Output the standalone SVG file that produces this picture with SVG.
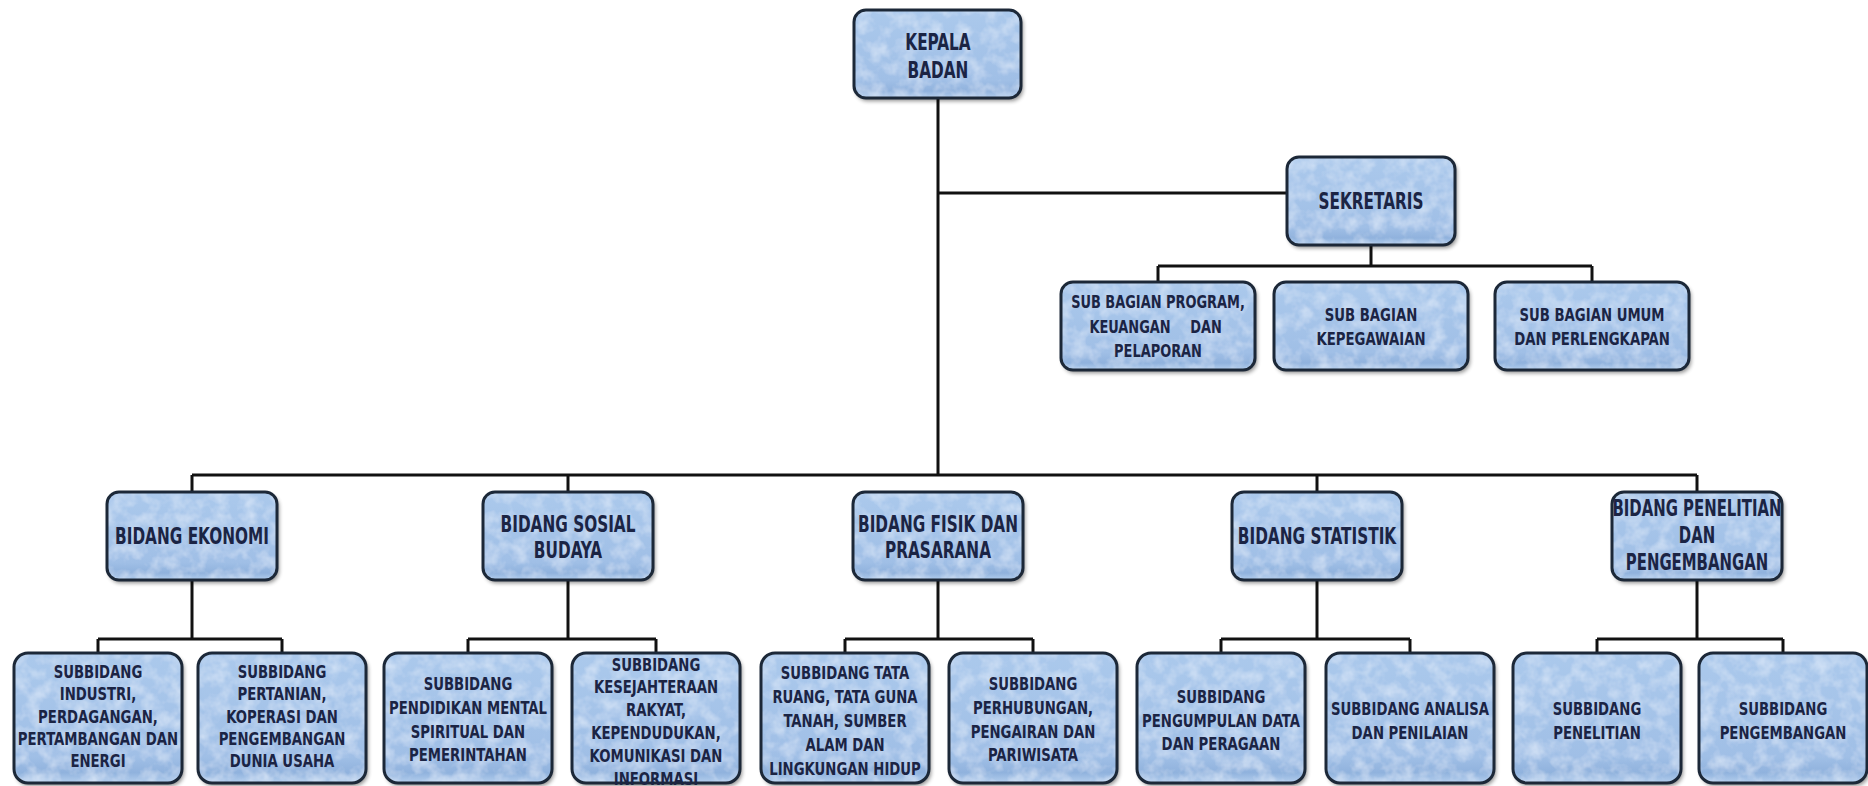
<svg xmlns="http://www.w3.org/2000/svg" width="1868" height="786" viewBox="0 0 1868 786">
<defs>
<linearGradient id="g" x1="0" y1="0" x2="0" y2="1">
<stop offset="0" stop-color="#abc9ec"/>
<stop offset="0.8" stop-color="#a0bfe6"/>
<stop offset="0.92" stop-color="#90b2dd"/>
<stop offset="1" stop-color="#b4cfee"/>
</linearGradient>
<filter id="f" x="-5%" y="-5%" width="115%" height="120%">
<feGaussianBlur in="SourceAlpha" stdDeviation="2" result="bl"/>
<feOffset in="bl" dx="2" dy="3" result="of"/>
<feComponentTransfer in="of" result="sh"><feFuncA type="linear" slope="0.45"/></feComponentTransfer>
<feTurbulence type="fractalNoise" baseFrequency="0.07" numOctaves="3" seed="7" result="n"/>
<feColorMatrix in="n" type="matrix" values="0 0 0 0 0.8  0 0 0 0 0.88  0 0 0 0 0.98  1.1 0 0 0 -0.42" result="nw"/>
<feComposite in="nw" in2="SourceGraphic" operator="in" result="tex"/>
<feMerge><feMergeNode in="sh"/><feMergeNode in="SourceGraphic"/><feMergeNode in="tex"/></feMerge>
</filter>
</defs>
<style>
.fl{fill:url(#g);filter:url(#f);}
.st{fill:none;stroke:#1c2838;stroke-width:3;}
.c line{stroke:#111;stroke-width:3;}
text{font-family:"DejaVu Sans Condensed","Liberation Sans",sans-serif;font-weight:bold;fill:#1b2444;text-anchor:middle;}
.h{font-size:23px;}
.s{font-size:18px;}
</style>
<rect width="1868" height="786" fill="#ffffff"/>
<g class="c" id="connectors">
<line x1="938" y1="98" x2="938" y2="475"/>
<line x1="938" y1="193" x2="1287" y2="193"/>
<line x1="1371" y1="245" x2="1371" y2="266"/>
<line x1="1158" y1="266" x2="1592" y2="266"/>
<line x1="1158" y1="266" x2="1158" y2="282"/>
<line x1="1592" y1="266" x2="1592" y2="282"/>
<line x1="192" y1="475" x2="1697" y2="475"/>
<line x1="192" y1="475" x2="192" y2="492"/>
<line x1="568" y1="475" x2="568" y2="492"/>
<line x1="1317" y1="475" x2="1317" y2="492"/>
<line x1="1697" y1="475" x2="1697" y2="492"/>
<line x1="192" y1="580" x2="192" y2="639"/>
<line x1="568" y1="580" x2="568" y2="639"/>
<line x1="938" y1="580" x2="938" y2="639"/>
<line x1="1317" y1="580" x2="1317" y2="639"/>
<line x1="1697" y1="580" x2="1697" y2="639"/>
<line x1="98" y1="639" x2="282" y2="639"/>
<line x1="468" y1="639" x2="656" y2="639"/>
<line x1="845" y1="639" x2="1033" y2="639"/>
<line x1="1221" y1="639" x2="1410" y2="639"/>
<line x1="1597" y1="639" x2="1783" y2="639"/>
<line x1="98" y1="639" x2="98" y2="653"/>
<line x1="282" y1="639" x2="282" y2="653"/>
<line x1="468" y1="639" x2="468" y2="653"/>
<line x1="656" y1="639" x2="656" y2="653"/>
<line x1="845" y1="639" x2="845" y2="653"/>
<line x1="1033" y1="639" x2="1033" y2="653"/>
<line x1="1221" y1="639" x2="1221" y2="653"/>
<line x1="1410" y1="639" x2="1410" y2="653"/>
<line x1="1597" y1="639" x2="1597" y2="653"/>
<line x1="1783" y1="639" x2="1783" y2="653"/>
</g>
<g id="kepala">
<rect class="fl" x="854" y="10" width="167" height="88" rx="12"/><rect class="st" x="854" y="10" width="167" height="88" rx="12"/>
<text class="h" transform="translate(938 0) scale(0.74 1)"><tspan x="0" y="50">KEPALA</tspan><tspan x="0" y="78">BADAN</tspan></text>
</g>
<g id="sekretaris">
<rect class="fl" x="1287" y="157" width="168" height="88" rx="12"/><rect class="st" x="1287" y="157" width="168" height="88" rx="12"/>
<text class="h" transform="translate(1371 0) scale(0.74 1)" x="0" y="209">SEKRETARIS</text>
</g>
<g id="sb-program">
<rect class="fl" x="1061" y="282" width="194" height="88" rx="12"/><rect class="st" x="1061" y="282" width="194" height="88" rx="12"/>
<text class="s" transform="translate(1158 0) scale(0.8 1)"><tspan x="0" y="308">SUB BAGIAN PROGRAM,</tspan><tspan x="-35" y="333">KEUANGAN</tspan><tspan x="60" y="333">DAN</tspan><tspan x="0" y="357">PELAPORAN</tspan></text>
</g>
<g id="sb-kepegawaian">
<rect class="fl" x="1274" y="282" width="194" height="88" rx="12"/><rect class="st" x="1274" y="282" width="194" height="88" rx="12"/>
<text class="s" transform="translate(1371 0) scale(0.82 1)"><tspan x="0" y="321">SUB BAGIAN</tspan><tspan x="0" y="345">KEPEGAWAIAN</tspan></text>
</g>
<g id="sb-umum">
<rect class="fl" x="1495" y="282" width="194" height="88" rx="12"/><rect class="st" x="1495" y="282" width="194" height="88" rx="12"/>
<text class="s" transform="translate(1592 0) scale(0.82 1)"><tspan x="0" y="321">SUB BAGIAN UMUM</tspan><tspan x="0" y="345">DAN PERLENGKAPAN</tspan></text>
</g>
<g id="bidang-ekonomi">
<rect class="fl" x="107" y="492" width="170" height="88" rx="12"/><rect class="st" x="107" y="492" width="170" height="88" rx="12"/>
<text class="h" transform="translate(192 0) scale(0.74 1)" x="0" y="544">BIDANG EKONOMI</text>
</g>
<g id="bidang-sosial">
<rect class="fl" x="483" y="492" width="170" height="88" rx="12"/><rect class="st" x="483" y="492" width="170" height="88" rx="12"/>
<text class="h" transform="translate(568 0) scale(0.74 1)"><tspan x="0" y="532">BIDANG SOSIAL</tspan><tspan x="0" y="558">BUDAYA</tspan></text>
</g>
<g id="bidang-fisik">
<rect class="fl" x="853" y="492" width="170" height="88" rx="12"/><rect class="st" x="853" y="492" width="170" height="88" rx="12"/>
<text class="h" transform="translate(938 0) scale(0.74 1)"><tspan x="0" y="532">BIDANG FISIK DAN</tspan><tspan x="0" y="558">PRASARANA</tspan></text>
</g>
<g id="bidang-statistik">
<rect class="fl" x="1232" y="492" width="170" height="88" rx="12"/><rect class="st" x="1232" y="492" width="170" height="88" rx="12"/>
<text class="h" transform="translate(1317 0) scale(0.74 1)" x="0" y="544">BIDANG STATISTIK</text>
</g>
<g id="bidang-penelitian">
<rect class="fl" x="1612" y="492" width="170" height="88" rx="12"/><rect class="st" x="1612" y="492" width="170" height="88" rx="12"/>
<text class="h" transform="translate(1697 0) scale(0.72 1)"><tspan x="0" y="516">BIDANG PENELITIAN</tspan><tspan x="0" y="543">DAN</tspan><tspan x="0" y="570">PENGEMBANGAN</tspan></text>
</g>
<g id="sub-industri">
<rect class="fl" x="14" y="653" width="168" height="130" rx="14"/><rect class="st" x="14" y="653" width="168" height="130" rx="14"/>
<text class="s" transform="translate(98 0) scale(0.82 1)"><tspan x="0" y="678">SUBBIDANG</tspan><tspan x="0" y="700">INDUSTRI,</tspan><tspan x="0" y="723">PERDAGANGAN,</tspan><tspan x="0" y="745">PERTAMBANGAN DAN</tspan><tspan x="0" y="767">ENERGI</tspan></text>
</g>
<g id="sub-pertanian">
<rect class="fl" x="198" y="653" width="168" height="130" rx="14"/><rect class="st" x="198" y="653" width="168" height="130" rx="14"/>
<text class="s" transform="translate(282 0) scale(0.82 1)"><tspan x="0" y="678">SUBBIDANG</tspan><tspan x="0" y="700">PERTANIAN,</tspan><tspan x="0" y="723">KOPERASI DAN</tspan><tspan x="0" y="745">PENGEMBANGAN</tspan><tspan x="0" y="767">DUNIA USAHA</tspan></text>
</g>
<g id="sub-pendidikan">
<rect class="fl" x="384" y="653" width="168" height="130" rx="14"/><rect class="st" x="384" y="653" width="168" height="130" rx="14"/>
<text class="s" transform="translate(468 0) scale(0.82 1)"><tspan x="0" y="690">SUBBIDANG</tspan><tspan x="0" y="714">PENDIDIKAN MENTAL</tspan><tspan x="0" y="738">SPIRITUAL DAN</tspan><tspan x="0" y="761">PEMERINTAHAN</tspan></text>
</g>
<g id="sub-kesejahteraan">
<rect class="fl" x="572" y="653" width="168" height="130" rx="14"/><rect class="st" x="572" y="653" width="168" height="130" rx="14"/>
<text class="s" transform="translate(656 0) scale(0.82 1)"><tspan x="0" y="671">SUBBIDANG</tspan><tspan x="0" y="693">KESEJAHTERAAN</tspan><tspan x="0" y="716">RAKYAT,</tspan><tspan x="0" y="739">KEPENDUDUKAN,</tspan><tspan x="0" y="762">KOMUNIKASI DAN</tspan><tspan x="0" y="785">INFORMASI</tspan></text>
</g>
<g id="sub-tataruang">
<rect class="fl" x="761" y="653" width="168" height="130" rx="14"/><rect class="st" x="761" y="653" width="168" height="130" rx="14"/>
<text class="s" transform="translate(845 0) scale(0.82 1)"><tspan x="0" y="679">SUBBIDANG TATA</tspan><tspan x="0" y="703">RUANG, TATA GUNA</tspan><tspan x="0" y="727">TANAH, SUMBER</tspan><tspan x="0" y="751">ALAM DAN</tspan><tspan x="0" y="775">LINGKUNGAN HIDUP</tspan></text>
</g>
<g id="sub-perhubungan">
<rect class="fl" x="949" y="653" width="168" height="130" rx="14"/><rect class="st" x="949" y="653" width="168" height="130" rx="14"/>
<text class="s" transform="translate(1033 0) scale(0.82 1)"><tspan x="0" y="690">SUBBIDANG</tspan><tspan x="0" y="714">PERHUBUNGAN,</tspan><tspan x="0" y="738">PENGAIRAN DAN</tspan><tspan x="0" y="761">PARIWISATA</tspan></text>
</g>
<g id="sub-pengumpulan">
<rect class="fl" x="1137" y="653" width="168" height="130" rx="14"/><rect class="st" x="1137" y="653" width="168" height="130" rx="14"/>
<text class="s" transform="translate(1221 0) scale(0.82 1)"><tspan x="0" y="703">SUBBIDANG</tspan><tspan x="0" y="727">PENGUMPULAN DATA</tspan><tspan x="0" y="750">DAN PERAGAAN</tspan></text>
</g>
<g id="sub-analisa">
<rect class="fl" x="1326" y="653" width="168" height="130" rx="14"/><rect class="st" x="1326" y="653" width="168" height="130" rx="14"/>
<text class="s" transform="translate(1410 0) scale(0.82 1)"><tspan x="0" y="715">SUBBIDANG ANALISA</tspan><tspan x="0" y="739">DAN PENILAIAN</tspan></text>
</g>
<g id="sub-penelitian">
<rect class="fl" x="1513" y="653" width="168" height="130" rx="14"/><rect class="st" x="1513" y="653" width="168" height="130" rx="14"/>
<text class="s" transform="translate(1597 0) scale(0.82 1)"><tspan x="0" y="715">SUBBIDANG</tspan><tspan x="0" y="739">PENELITIAN</tspan></text>
</g>
<g id="sub-pengembangan">
<rect class="fl" x="1699" y="653" width="168" height="130" rx="14"/><rect class="st" x="1699" y="653" width="168" height="130" rx="14"/>
<text class="s" transform="translate(1783 0) scale(0.82 1)"><tspan x="0" y="715">SUBBIDANG</tspan><tspan x="0" y="739">PENGEMBANGAN</tspan></text>
</g>
</svg>
